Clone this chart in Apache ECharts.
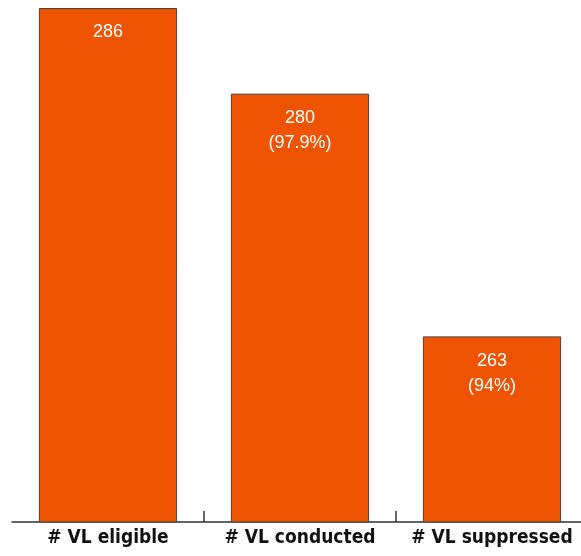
<!DOCTYPE html>
<html>
<head>
<meta charset="utf-8">
<script src="https://cdn.jsdelivr.net/npm/echarts@6/dist/echarts.min.js"></script>
<style>
html,body{margin:0;padding:0;background:#fff;}
#chart{width:581px;height:556px;}
</style>
</head>
<body>
<div id="chart"></div>
<script>
const categories = ['# VL eligible', '# VL conducted', '# VL suppressed'];
const values = [286, 280, 263];
const percents = ['', '97.9%', '94%'];

const chart = echarts.init(document.getElementById('chart'), null, {renderer: 'canvas'});
chart.setOption({
  animation: false,
  grid: {left: 12, width: 576, top: 8, bottom: 34, outerBoundsMode: 'none', containLabel: false},
  xAxis: {
    type: 'category',
    data: categories,
    boundaryGap: true,
    axisLine: {show: true, lineStyle: {color: '#333', width: 1.5}},
    axisTick: {show: true, inside: true, length: 11, lineStyle: {color: '#333', width: 1.5},
      interval: function (i) { return i > 0; }},
    axisLabel: {interval: 0, color: '#111', fontFamily: 'DejaVu Sans Condensed', fontWeight: 'bold', fontSize: 19, margin: 7}
  },
  yAxis: {
    type: 'value', min: 250, max: 286, show: false,
    splitLine: {show: false}
  },
  series: [{
    type: 'bar',
    data: values,
    barWidth: '72%',
    itemStyle: {color: '#EE5400', borderColor: '#444', borderWidth: 1},
    label: {
      show: true,
      position: 'insideTop',
      distance: 12,
      color: '#fff',
      fontFamily: 'Liberation Sans',
      fontSize: 18,
      lineHeight: 25,
      formatter: function (p) {
        const pc = percents[p.dataIndex];
        return pc ? p.value + '\n(' + pc + ')' : String(p.value);
      }
    }
  }]
});
</script>
</body>
</html>
